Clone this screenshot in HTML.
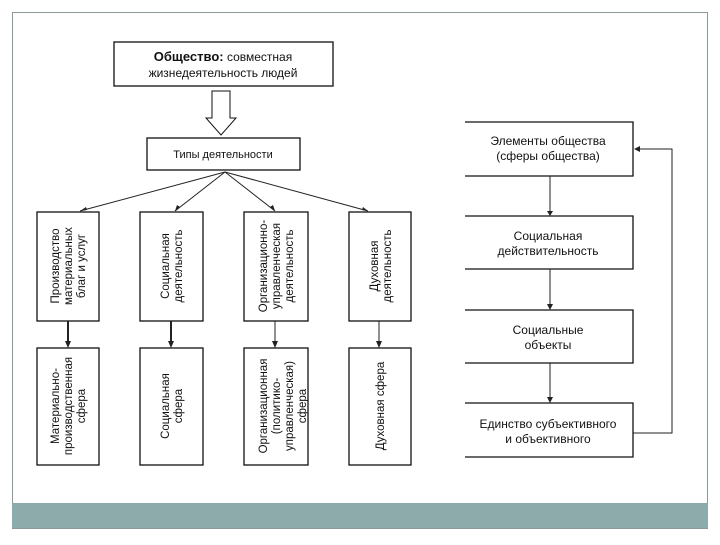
<!DOCTYPE html>
<html><head><meta charset="utf-8"><style>
body{margin:0;width:720px;height:540px;background:#fff;overflow:hidden;font-family:"Liberation Sans",sans-serif;}
</style></head><body>
<svg width="720" height="540" xmlns="http://www.w3.org/2000/svg" font-family="Liberation Sans, sans-serif" fill="none">
<rect x="12.5" y="12.5" width="695" height="516" stroke="#8a9a9a" stroke-width="1"/>
<rect x="12" y="503" width="696" height="25" fill="#8eabab"/>
<g stroke="#111" stroke-width="1.3">
<rect x="114" y="42" width="219" height="44" fill="#fff"/>
<path d="M212 91 H230 V118 H236 L221 135 L206 118 H212 Z" fill="#fff" stroke-width="1"/>
<rect x="147" y="138" width="153" height="32" fill="#fff"/>
<rect x="37" y="212" width="62" height="109"/>
<rect x="140" y="212" width="63" height="109"/>
<rect x="244" y="212" width="64" height="109"/>
<rect x="349" y="212" width="62" height="109"/>
<rect x="37" y="348" width="62" height="117"/>
<rect x="140" y="348" width="63" height="117"/>
<rect x="244" y="348" width="64" height="117"/>
<rect x="349" y="348" width="62" height="117"/>
<path d="M465 122 H633 V176 H465"/>
<path d="M465 216 H633 V269 H465"/>
<path d="M465 310 H633 V363 H465"/>
<path d="M465 403 H633 V457 H465"/>
</g>
<g stroke="#222" stroke-width="1">
<line x1="225" y1="172" x2="80" y2="211"/>
<line x1="225" y1="172" x2="175" y2="211"/>
<line x1="225" y1="172" x2="275" y2="211"/>
<line x1="225" y1="172" x2="368" y2="211"/>
<line x1="68" y1="321" x2="68" y2="345" stroke-width="2"/>
<line x1="171" y1="321" x2="171" y2="345" stroke-width="2"/>
<line x1="275" y1="321" x2="275" y2="345"/>
<line x1="379" y1="321" x2="379" y2="345"/>
<line x1="550" y1="176" x2="550" y2="214"/>
<line x1="550" y1="269" x2="550" y2="308"/>
<line x1="550" y1="363" x2="550" y2="401"/>
<path d="M633 433 H672 V149 H636"/>
</g>
<g fill="#222">
<path d="M80 211 l6 -4 l1 3z"/><path d="M175 211 l2 -6 l3 2z"/><path d="M275 211 l-5 -4 l3 -2z"/><path d="M368 211 l-6 -1 l1 -3z"/>
<path d="M65 341 h6 l-3 7z"/><path d="M168 341 h6 l-3 7z"/><path d="M272 341 h6 l-3 7z"/><path d="M376 341 h6 l-3 7z"/>
<path d="M547 211 h6 l-3 5z"/><path d="M547 304 h6 l-3 6z"/><path d="M547 397 h6 l-3 6z"/><path d="M634 149 l6 -3 v6z"/>
</g>
<g fill="#111" font-size="12" text-anchor="middle">
<text x="223" y="61"><tspan font-weight="bold" font-size="13">Общество:</tspan> совместная</text>
<text x="223" y="77">жизнедеятельность людей</text>
<text x="223" y="158" font-size="11">Типы деятельности</text>
<text x="548" y="145">Элементы общества</text>
<text x="548" y="160">(сферы общества)</text>
<text x="548" y="240">Социальная</text>
<text x="548" y="255">действительность</text>
<text x="548" y="334">Социальные</text>
<text x="548" y="349">объекты</text>
<text x="548" y="428">Единство субъективного</text>
<text x="548" y="443">и объективного</text>
</g>
<g fill="#111" font-size="11.5" text-anchor="middle">
<g transform="translate(68,266) rotate(-90)"><text y="-9">Производство</text><text y="4">материальных</text><text y="17">благ и услуг</text></g>
<g transform="translate(171,266) rotate(-90)"><text y="-2">Социальная</text><text y="11">деятельность</text></g>
<g transform="translate(276,266) rotate(-90)"><text y="-9">Организационно-</text><text y="4">управленческая</text><text y="17">деятельность</text></g>
<g transform="translate(380,266) rotate(-90)"><text y="-2">Духовная</text><text y="11">деятельность</text></g>
<g transform="translate(68,406) rotate(-90)"><text y="-9">Материально-</text><text y="4">производственная</text><text y="17">сфера</text></g>
<g transform="translate(171,406) rotate(-90)"><text y="-2">Социальная</text><text y="11">сфера</text></g>
<g transform="translate(276,406) rotate(-90)"><text y="-9">Организационная</text><text y="4">(политико-</text><text y="17">управленческая)</text><text y="30">сфера</text></g>
<g transform="translate(380,406) rotate(-90)"><text y="4">Духовная сфера</text></g>
</g>
</svg>
</body></html>
